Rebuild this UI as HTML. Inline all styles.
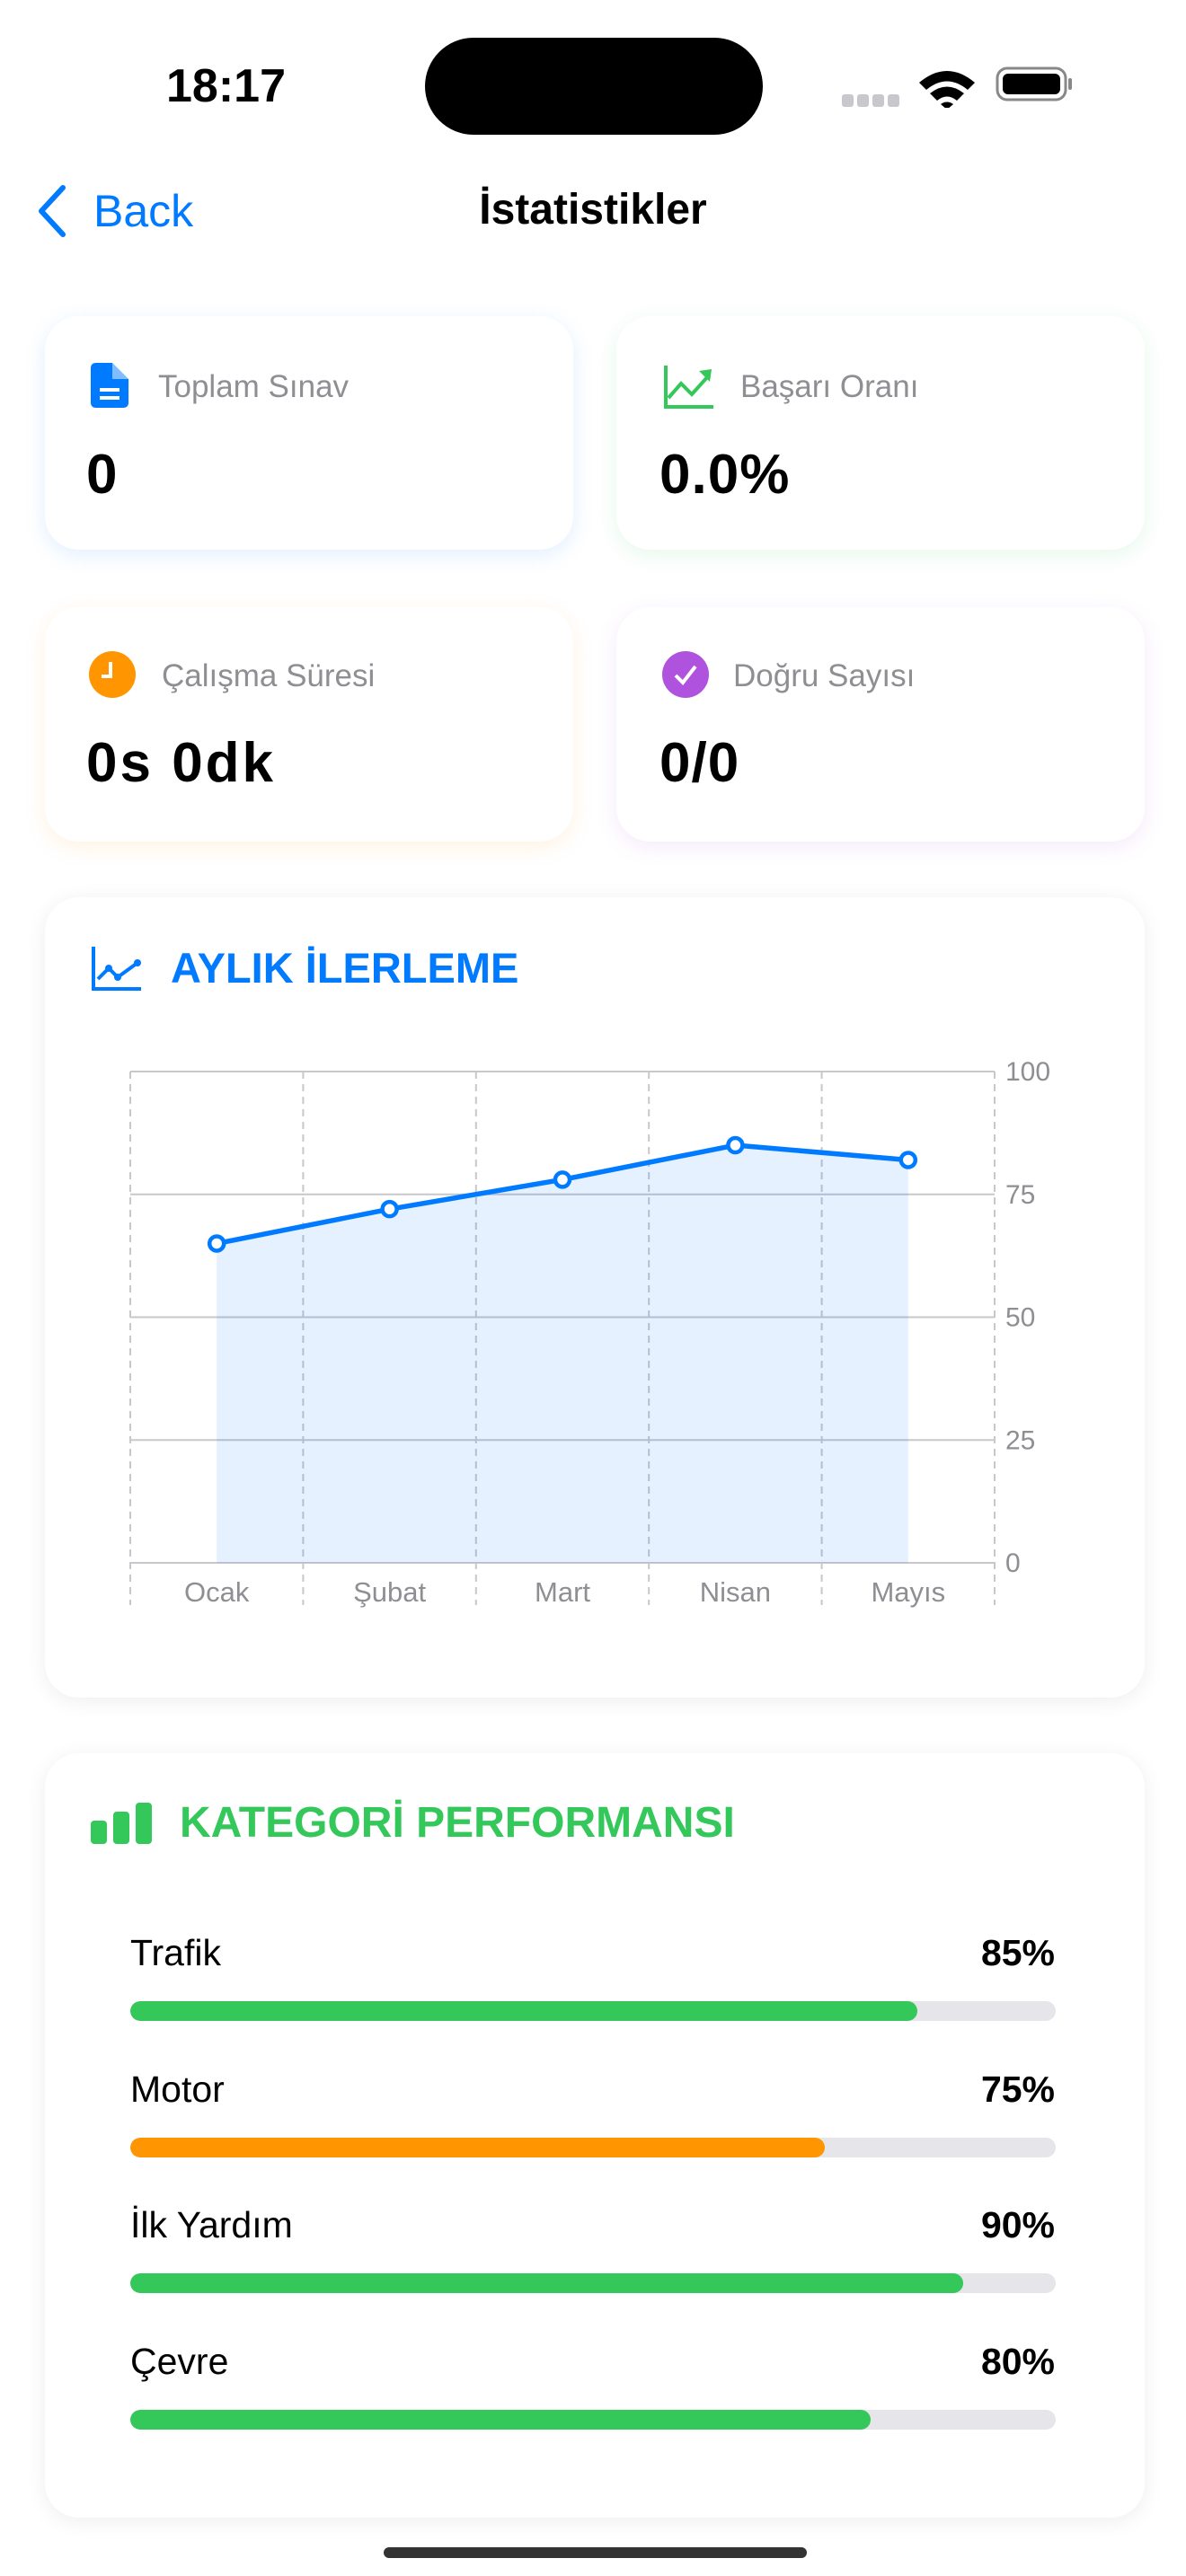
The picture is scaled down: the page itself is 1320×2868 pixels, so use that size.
<!DOCTYPE html>
<html><head><meta charset="utf-8">
<style>
*{margin:0;padding:0;box-sizing:border-box}
body{width:1320px;height:2868px;background:#fff;font-family:"Liberation Sans",sans-serif;position:relative;overflow:hidden}
.abs{position:absolute}
.card{position:absolute;background:#fff;border-radius:38px}
.lbl{position:absolute;font-size:35px;color:#8e8e93;line-height:1}
.val{position:absolute;font-size:62px;font-weight:bold;color:#000;line-height:1;letter-spacing:1px}
.row-l{position:absolute;left:145px;font-size:41px;color:#000;line-height:1}
.row-v{position:absolute;right:146px;font-size:41px;font-weight:bold;color:#000;line-height:1}
.track{position:absolute;left:145px;width:1030px;height:22px;border-radius:11px;background:#e5e5ea;overflow:hidden}
.fill{height:100%;border-radius:11px}
</style></head><body>
<div class="abs" style="left:185px;top:70px;font-size:52px;font-weight:bold;line-height:1">18:17</div>
<div class="abs" style="left:473px;top:42px;width:376px;height:108px;border-radius:54px;background:#000"></div>
<svg class="abs" style="left:927px;top:70px" width="280" height="50" viewBox="0 0 280 50">
<g fill="#c7c7cc"><rect x="10" y="35" width="13" height="14" rx="3"/><rect x="27" y="35" width="13" height="14" rx="3"/><rect x="44" y="35" width="13" height="14" rx="3"/><rect x="61" y="35" width="13" height="14" rx="3"/></g>
<path d="M96 22 Q127 -4 158 22 L150 30 Q127 11 104 30Z M108 34 Q127 19 146 34 L138 42 Q127 33 116 42Z M120 46 L127 52 L134 46 Q127 41 120 46Z" fill="#000"/>
<rect x="183" y="6" width="76" height="35" rx="11" fill="none" stroke="#888" stroke-width="3"/>
<rect x="189" y="12" width="64" height="23" rx="6" fill="#000"/>
<rect x="262" y="17" width="4" height="13" rx="2" fill="#888"/>
</svg>
<svg class="abs" style="left:38px;top:205px" width="40" height="60"><path d="M32 4 L8 30 L32 56" fill="none" stroke="#007aff" stroke-width="6" stroke-linecap="round" stroke-linejoin="round"/></svg>
<div class="abs" style="left:104px;top:210px;font-size:50px;color:#007aff;line-height:1">Back</div>
<div class="abs" style="left:0;width:1320px;text-align:center;top:210px;font-size:48px;font-weight:bold;line-height:1">İstatistikler</div>

<div class="card" style="left:50px;top:352px;width:588px;height:260px;box-shadow:0 6px 24px rgba(0,122,255,0.12)">
<svg class="abs" style="left:51px;top:52px" width="42" height="50"><path d="M0 6 Q0 0 6 0 H24 L42 18 V44 Q42 50 36 50 H6 Q0 50 0 44Z" fill="#007aff"/><path d="M24 0 V18 H42" fill="#fff" opacity="0.5"/><rect x="10" y="28" width="22" height="4" fill="#fff"/><rect x="10" y="37" width="22" height="4" fill="#fff"/></svg>
<div class="lbl" style="left:126px;top:61px">Toplam Sınav</div>
<div class="val" style="left:46px;top:146px">0</div></div>

<div class="card" style="left:686px;top:352px;width:588px;height:260px;box-shadow:0 6px 24px rgba(52,199,89,0.12)">
<svg class="abs" style="left:52px;top:55px" width="58" height="50"><path d="M3 0 V46 H56" fill="none" stroke="#34c759" stroke-width="4"/><path d="M6 36 L20 20 L32 32 L50 12" fill="none" stroke="#34c759" stroke-width="4"/><path d="M40 6 L54 4 L52 18Z" fill="#34c759"/></svg>
<div class="lbl" style="left:138px;top:61px">Başarı Oranı</div>
<div class="val" style="left:48px;top:146px">0.0%</div></div>

<div class="card" style="left:50px;top:676px;width:588px;height:261px;box-shadow:0 6px 24px rgba(255,149,0,0.12)">
<svg class="abs" style="left:49px;top:49px" width="52" height="52"><circle cx="26" cy="26" r="26" fill="#ff9500"/><path d="M24 12 V28 H14" fill="none" stroke="#fff" stroke-width="4"/></svg>
<div class="lbl" style="left:130px;top:59px">Çalışma Süresi</div>
<div class="val" style="left:46px;top:143px;letter-spacing:3px">0s 0dk</div></div>

<div class="card" style="left:686px;top:676px;width:588px;height:261px;box-shadow:0 6px 24px rgba(175,82,222,0.12)">
<svg class="abs" style="left:51px;top:49px" width="52" height="52"><circle cx="26" cy="26" r="26" fill="#af52de"/><path d="M15 27 L23 35 L37 17" fill="none" stroke="#fff" stroke-width="4"/></svg>
<div class="lbl" style="left:130px;top:59px">Doğru Sayısı</div>
<div class="val" style="left:48px;top:143px">0/0</div></div>

<div class="card" style="left:50px;top:999px;width:1224px;height:891px;box-shadow:0 4px 24px rgba(0,0,0,0.07)"></div>
<svg class="abs" style="left:101px;top:1054px" width="58" height="50"><path d="M3 0 V47 H56" fill="none" stroke="#007aff" stroke-width="4"/><path d="M8 36 L20 24 L30 34 L52 18" fill="none" stroke="#007aff" stroke-width="4"/><circle cx="20" cy="24" r="4" fill="#007aff"/><circle cx="30" cy="34" r="4" fill="#007aff"/><circle cx="52" cy="18" r="4" fill="#007aff"/></svg>
<div class="abs" style="left:190px;top:1054px;font-size:47px;font-weight:bold;color:#007aff;line-height:1">AYLIK İLERLEME</div>
<svg id="chart" class="abs" style="left:0;top:0" width="1320" height="1900"></svg>

<div class="card" style="left:50px;top:1952px;width:1224px;height:851px;box-shadow:0 4px 24px rgba(0,0,0,0.07)"></div>
<svg class="abs" style="left:101px;top:2007px" width="70" height="46"><rect x="0" y="20" width="18" height="26" rx="4" fill="#34c759"/><rect x="25" y="10" width="18" height="36" rx="4" fill="#34c759"/><rect x="50" y="0" width="18" height="46" rx="4" fill="#34c759"/></svg>
<div class="abs" style="left:200px;top:2006px;font-size:48px;font-weight:bold;color:#34c759;line-height:1">KATEGORİ PERFORMANSI</div>
<div id="cats"></div>

<div class="abs" style="left:427px;top:2836px;width:471px;height:12px;border-radius:6px;background:#333"></div>

<script>
const months = ["Ocak","Şubat","Mart","Nisan","Mayıs"];
const scores = [65,72,78,85,82];
const yTicks = [0,25,50,75,100];
const catNames = ["Trafik","Motor","İlk Yardım","Çevre"];
const catValues = [85,75,90,80];
const catColors = ["#34c759","#ff9500","#34c759","#34c759"];

const NS="http://www.w3.org/2000/svg";
const svg=document.getElementById('chart');
const L=145,R=1107,T=1193,B=1740;
const band=(R-L)/months.length;
const x=i=>L+band*(i+0.5);
const y=v=>B-(v/100)*(B-T);
function mk(tag,attrs){const e=document.createElementNS(NS,tag);for(const k in attrs)e.setAttribute(k,attrs[k]);svg.appendChild(e);return e;}
for(let i=0;i<=months.length;i++){
  const gx=L+band*i;
  const ln=mk('line',{x1:gx,x2:gx,y1:T,y2:1787,stroke:'#c8c8cc','stroke-width':2,'stroke-dasharray':'8 6'});
  
  
}
yTicks.forEach(t=>{
  const ln=mk('line',{x1:L,x2:R,y1:y(t),y2:y(t),stroke:'#c8c8cc','stroke-width':2});
  
  
  const tx=mk('text',{x:R+12,y:y(t)+10,'font-size':30,fill:'#8e8e93','font-family':'Liberation Sans, sans-serif'});
  tx.textContent=t;
  
  
});
let area=`M${x(0)} ${B}`;scores.forEach((v,i)=>area+=` L${x(i)} ${y(v)}`);area+=` L${x(scores.length-1)} ${B}Z`;
const ar=mk('path',{d:area,fill:'rgba(0,122,255,0.1)'});


const pl=mk('polyline',{points:scores.map((v,i)=>x(i)+','+y(v)).join(' '),fill:'none',stroke:'#007aff','stroke-width':5.5,'stroke-linejoin':'round'});


scores.forEach((v,i)=>{
  const c=mk('circle',{cx:x(i),cy:y(v),r:8,fill:'#fff',stroke:'#007aff','stroke-width':4.5});
  
  
});
months.forEach((m,i)=>{
  const tx=mk('text',{x:x(i),y:1783,'text-anchor':'middle','font-size':31,fill:'#8e8e93','font-family':'Liberation Sans, sans-serif'});
  tx.textContent=m;
  
  
});

const cats=document.getElementById('cats');
catNames.forEach((n,i)=>{
  const top=2154+i*151.6;
  const l=document.createElement('div');l.className='row-l';l.style.top=top+'px';l.textContent=n;
  
  
  const v=document.createElement('div');v.className='row-v';v.style.top=top+'px';v.textContent=catValues[i]+'%';
  
  
  const tr=document.createElement('div');tr.className='track';tr.style.top=(top+74)+'px';
  
  
  const f=document.createElement('div');f.className='fill';f.style.width=catValues[i]+'%';f.style.background=catColors[i];
  
  
  tr.appendChild(f);cats.appendChild(l);cats.appendChild(v);cats.appendChild(tr);
});
</script>
</body></html>
